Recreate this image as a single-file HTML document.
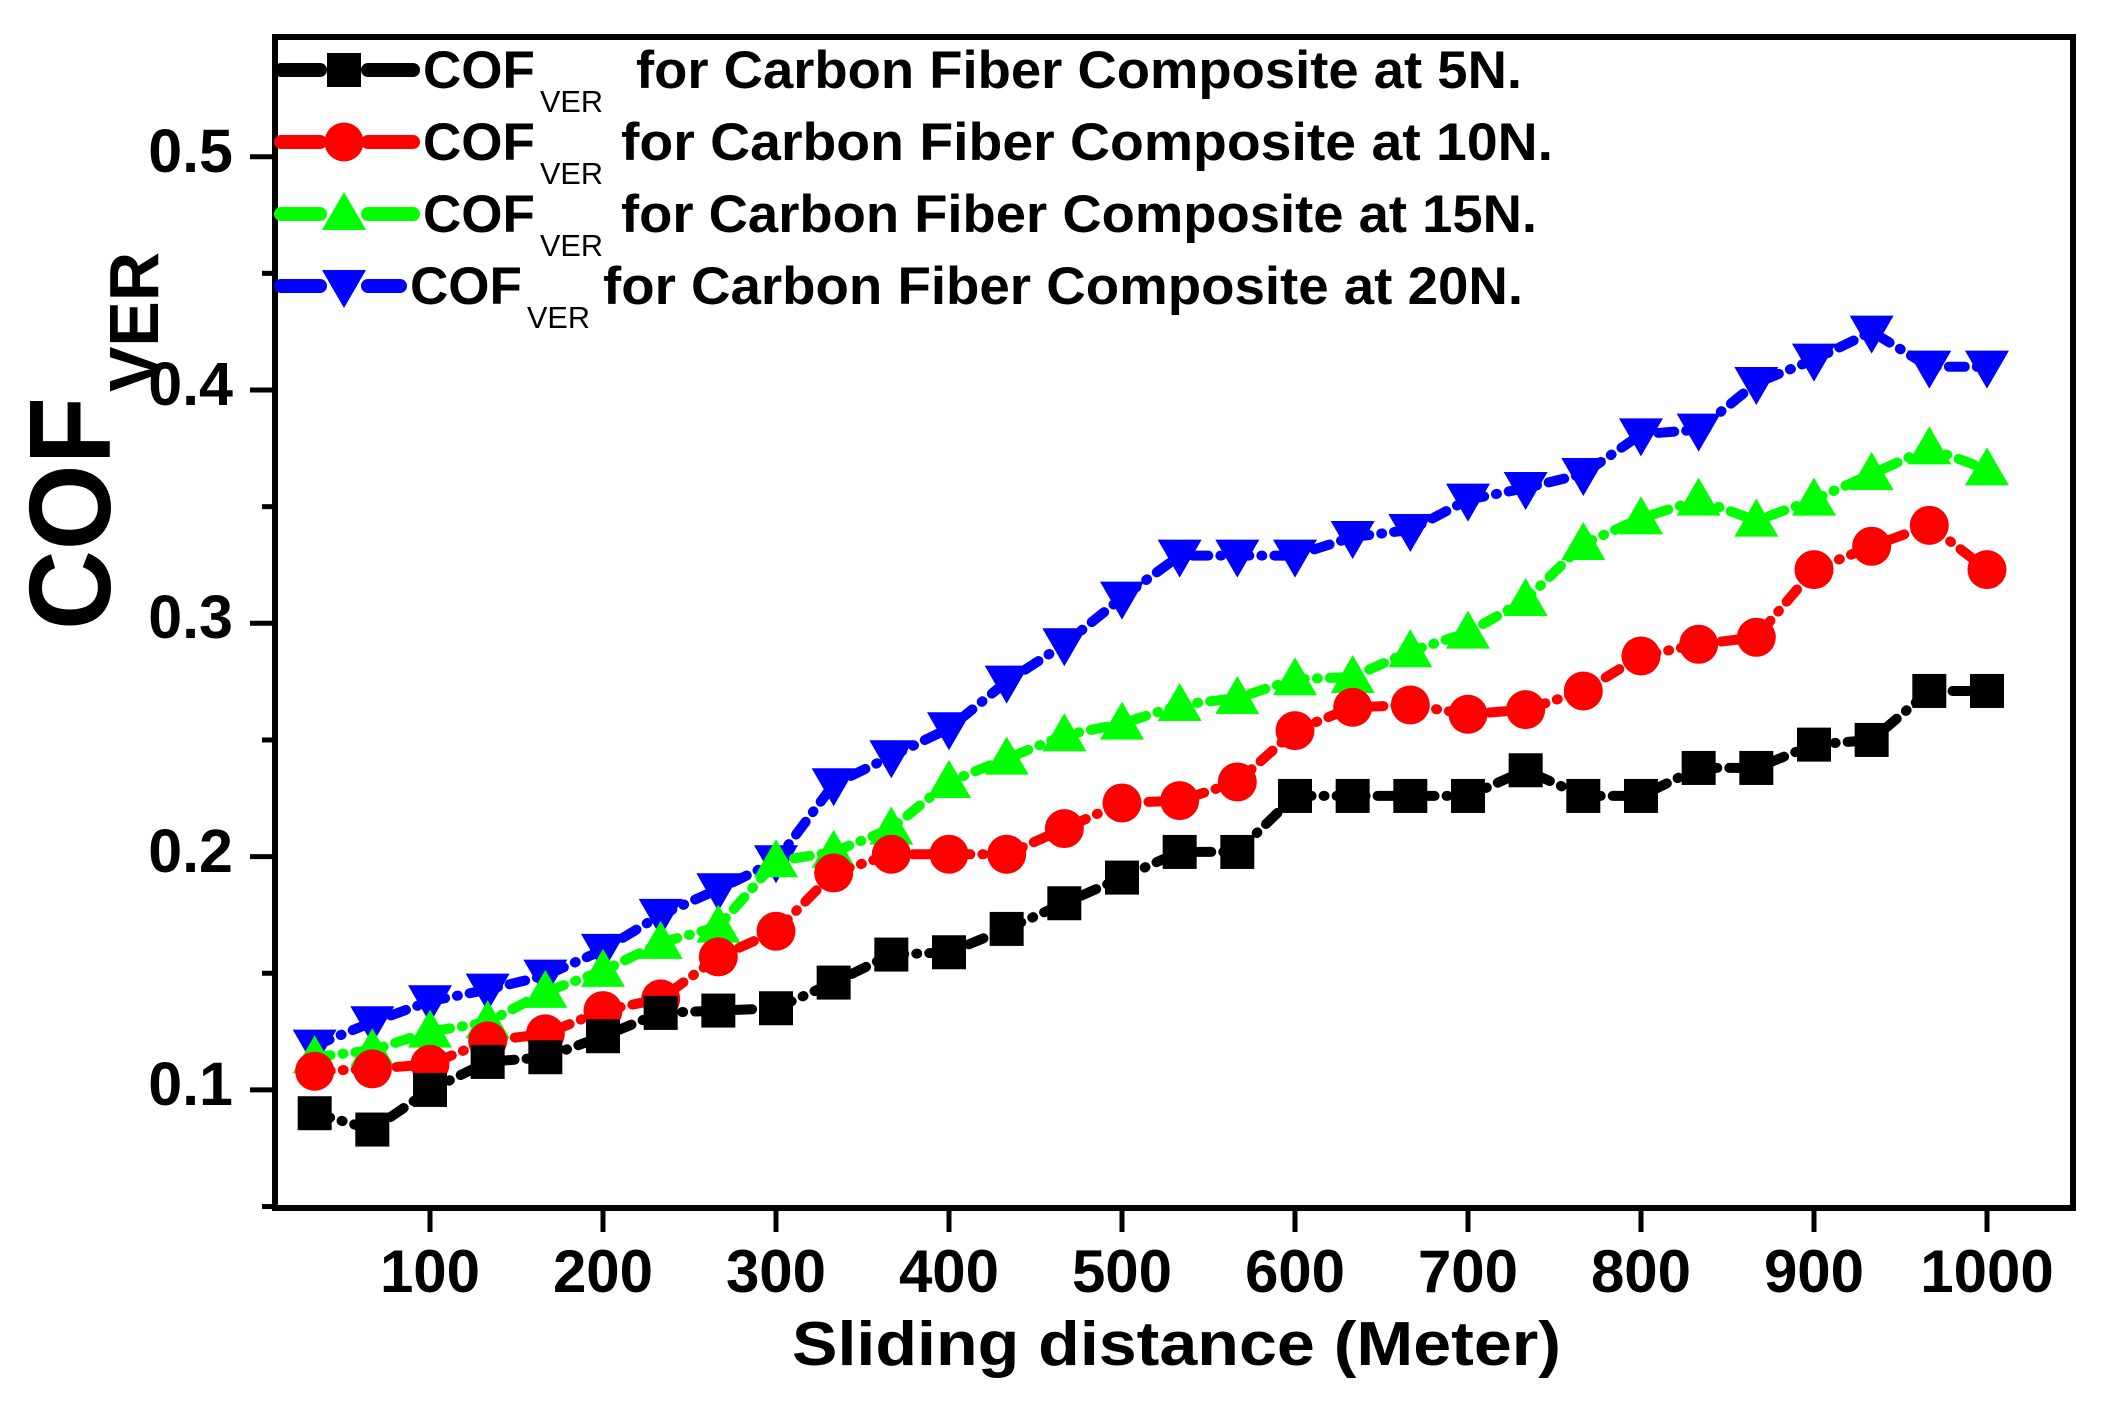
<!DOCTYPE html>
<html><head><meta charset="utf-8"><style>
html,body{margin:0;padding:0;background:#fff;}
svg{display:block;font-family:"Liberation Sans",Arial,sans-serif;font-weight:bold;}
</style></head><body>
<svg id="s" width="2120" height="1412" viewBox="0 0 2120 1412" xmlns="http://www.w3.org/2000/svg">
<rect x="0" y="0" width="2120" height="1412" fill="#fff"/>
<g id="data"></g>
<rect x="275" y="37" width="1798" height="1171" fill="none" stroke="#000" stroke-width="6"/>
<g id="ticks" stroke="#000" stroke-width="5"></g>
<g font-size="61" text-anchor="end">
<text x="233" y="172">0.5</text>
<text x="233" y="405">0.4</text>
<text x="233" y="638">0.3</text>
<text x="233" y="872">0.2</text>
<text x="233" y="1105">0.1</text>
</g>
<g font-size="60" text-anchor="middle" id="xl"></g>
<text x="792" y="1365" font-size="62" textLength="769" lengthAdjust="spacingAndGlyphs">Sliding distance (Meter)</text>
<text transform="translate(110,630) rotate(-90)" font-size="116" textLength="233" lengthAdjust="spacingAndGlyphs">COF</text>
<text transform="translate(158,392) rotate(-90)" font-size="70" textLength="140" lengthAdjust="spacingAndGlyphs">VER</text>
<g id="legend"></g>
<g font-size="53">
<text x="423" y="88">COF</text><text x="540" y="112" font-size="31" font-weight="normal" textLength="63" lengthAdjust="spacingAndGlyphs">VER</text>
<text x="636" y="88" textLength="886" lengthAdjust="spacingAndGlyphs">for Carbon Fiber Composite at 5N.</text>
<text x="423" y="160">COF</text><text x="540" y="184" font-size="31" font-weight="normal" textLength="63" lengthAdjust="spacingAndGlyphs">VER</text>
<text x="621" y="160" textLength="932" lengthAdjust="spacingAndGlyphs">for Carbon Fiber Composite  at 10N.</text>
<text x="423" y="232">COF</text><text x="540" y="256" font-size="31" font-weight="normal" textLength="63" lengthAdjust="spacingAndGlyphs">VER</text>
<text x="621" y="232" textLength="916" lengthAdjust="spacingAndGlyphs">for Carbon Fiber Composite at 15N.</text>
<text x="410" y="304">COF</text><text x="527" y="328" font-size="31" font-weight="normal" textLength="63" lengthAdjust="spacingAndGlyphs">VER</text>
<text x="603" y="304" textLength="920" lengthAdjust="spacingAndGlyphs">for Carbon Fiber Composite at 20N.</text>
</g>
</svg>
<script>
var NS="http://www.w3.org/2000/svg";
function el(t,a,p){var e=document.createElementNS(NS,t);for(var k in a)e.setAttribute(k,a[k]);p.appendChild(e);return e;}
function X(v){return 430+1.73*(v-100);}
function Y(v){return 390+(0.4-v)*2333;}
var ticks=document.getElementById('ticks');
for(var v=100;v<=1000;v+=100){el('line',{x1:X(v),x2:X(v),y1:1208,y2:1232},ticks);
 var t=el('text',{x:X(v),y:1292},document.getElementById('xl'));t.textContent=v;}
for(var i=0;i<=9;i++){var yv=0.05+i*0.05;var yy=Y(yv);
 var major=Math.abs(Math.round(yv*10)-yv*10)<1e-6;
 el('line',{x1:major?250:262,x2:275,y1:yy,y2:yy},ticks);}
var S={
k:[0.09,0.083,0.1,0.112,0.114,0.123,0.133,0.134,0.135,0.146,0.158,0.159,0.169,0.18,0.191,0.202,0.202,0.226,0.226,0.226,0.226,0.237,0.226,0.226,0.238,0.238,0.248,0.25,0.271,0.271],
r:[0.108,0.109,0.111,0.121,0.124,0.134,0.139,0.157,0.168,0.193,0.201,0.201,0.201,0.212,0.223,0.224,0.232,0.254,0.264,0.265,0.261,0.263,0.271,0.286,0.291,0.294,0.323,0.333,0.342,0.323],
g:[0.114,0.117,0.125,0.129,0.142,0.151,0.163,0.17,0.198,0.202,0.212,0.232,0.242,0.252,0.257,0.265,0.268,0.276,0.277,0.288,0.296,0.31,0.334,0.345,0.353,0.344,0.353,0.364,0.375,0.366],
b:[0.119,0.129,0.138,0.143,0.149,0.16,0.175,0.186,0.198,0.231,0.243,0.255,0.275,0.291,0.311,0.329,0.329,0.329,0.337,0.34,0.353,0.358,0.364,0.381,0.383,0.403,0.413,0.425,0.41,0.41]};
var cols={k:'#000',r:'#ff0000',g:'#00ff00',b:'#0000ff'};
var order=['b','g','r','k'];
var D=document.getElementById('data');
function marker(s,x,y,p){var c=cols[s];
 if(s=='k')el('rect',{x:x-17,y:y-17,width:34,height:34,fill:c},p);
 else if(s=='r')el('circle',{cx:x,cy:y,r:19.5,fill:c},p);
 else if(s=='g')el('polygon',{points:(x-22)+','+(y+16)+' '+(x+22)+','+(y+16)+' '+x+','+(y-22),fill:c},p);
 else el('polygon',{points:(x-22)+','+(y-16)+' '+(x+22)+','+(y-16)+' '+x+','+(y+22),fill:c},p);}
order.forEach(function(s){
 var pts=S[s].map(function(v,i){return X(33.333*(i+1)).toFixed(1)+','+Y(v).toFixed(1);});
 el('polyline',{points:pts.join(' '),fill:'none',stroke:cols[s],'stroke-width':10,'stroke-dasharray':'16 12 1 12','stroke-linecap':'round','stroke-linejoin':'round'},D);
 S[s].forEach(function(v,i){marker(s,X(33.333*(i+1)),Y(v),D);});
});
var L=document.getElementById('legend');
var ly={k:70,r:142,g:214,b:286};
['k','r','g','b'].forEach(function(s){
 var x2=s=='b'?400:413;
 el('line',{x1:281,x2:320,y1:ly[s],y2:ly[s],stroke:cols[s],'stroke-width':14,'stroke-linecap':'round'},L);
 el('line',{x1:368,x2:x2,y1:ly[s],y2:ly[s],stroke:cols[s],'stroke-width':14,'stroke-linecap':'round'},L);
 marker(s,344,ly[s],L);
});
</script>
</body></html>
